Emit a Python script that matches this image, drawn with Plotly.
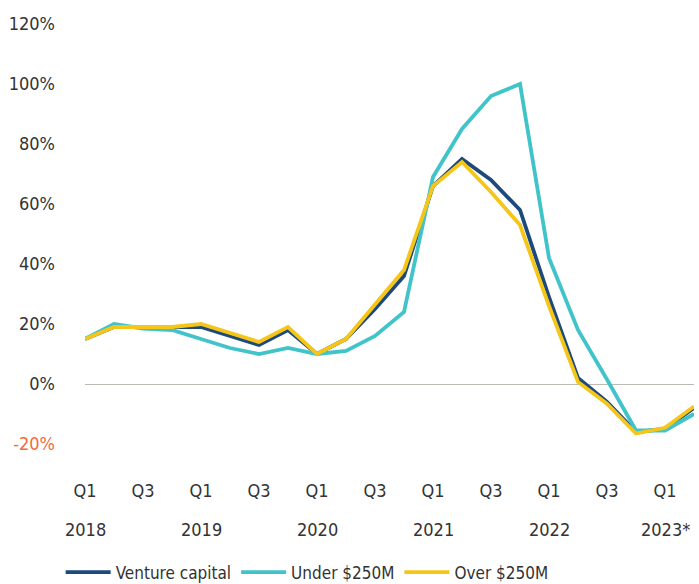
import plotly.graph_objects as go

quarters = ["2018 Q1", "2018 Q2", "2018 Q3", "2018 Q4",
            "2019 Q1", "2019 Q2", "2019 Q3", "2019 Q4",
            "2020 Q1", "2020 Q2", "2020 Q3", "2020 Q4",
            "2021 Q1", "2021 Q2", "2021 Q3", "2021 Q4",
            "2022 Q1", "2022 Q2", "2022 Q3", "2022 Q4",
            "2023 Q1", "2023 Q2"]
venture_capital = [15, 19, 19, 19, 19, 16, 13, 18, 10, 15, 25, 36,
                   66, 75, 68, 58, 29, 2, -6, -16, -15, -8]
under_250m = [15, 20, 18.5, 18, 15, 12, 10, 12, 10, 11, 16, 24,
              69, 85, 96, 100, 42, 18, 1.5, -15.5, -15.5, -10]
over_250m = [15, 19, 19, 19, 20, 17, 14, 19, 10, 15, 26.5, 38,
             66, 74, 64, 53, 26, 0.7, -6.6, -16.5, -14.6, -7.5]

quarter_tick_idx = [0, 2, 4, 6, 8, 10, 12, 14, 16, 18, 20]
quarter_tick_text = ["Q1", "Q3", "Q1", "Q3", "Q1", "Q3", "Q1", "Q3", "Q1", "Q3", "Q1"]
year_idx = [0, 4, 8, 12, 16, 20]
year_labels = ["2018", "2019", "2020", "2021", "2022", "2023*"]
y_tick_vals = [-20, 0, 20, 40, 60, 80, 100, 120]
y_tick_text = ["<span style='color:#f26a3d'>-20%</span>", "0%", "20%", "40%",
               "60%", "80%", "100%", "120%"]

FONT = "DejaVu Sans Condensed, Liberation Sans Narrow, sans-serif"
TXT = "#333333"
FS = 18

x = list(range(len(quarters)))

fig = go.Figure()
fig.add_trace(go.Scatter(x=x, y=venture_capital, mode="lines", name="Venture capital",
                         line=dict(color="#1d4a7c", width=3.8)))
fig.add_trace(go.Scatter(x=x, y=under_250m, mode="lines", name="Under $250M",
                         line=dict(color="#40c4ca", width=3.8)))
fig.add_trace(go.Scatter(x=x, y=over_250m, mode="lines", name="Over $250M",
                         line=dict(color="#f5c518", width=3.8)))

for xi, lab in zip(year_idx, year_labels):
    fig.add_annotation(x=xi, y=-0.12, xref="x", yref="paper", text=lab,
                       showarrow=False, yanchor="middle", xanchor="center",
                       font=dict(family=FONT, size=FS, color=TXT))

fig.update_layout(
    width=699, height=584,
    margin=dict(l=85, r=5, t=9, b=110, autoexpand=False),
    paper_bgcolor="white", plot_bgcolor="white",
    font=dict(family=FONT, size=FS, color=TXT),
    showlegend=True,
    legend=dict(orientation="h", x=-0.04, xanchor="left", y=-0.212, yanchor="middle",
                font=dict(family=FONT, size=17, color=TXT), itemwidth=45,
                bgcolor="rgba(0,0,0,0)"),
    xaxis=dict(range=[0, 21], tickmode="array", tickvals=quarter_tick_idx,
               ticktext=quarter_tick_text, showgrid=False, zeroline=False,
               showline=False, ticks="", ticklabelstandoff=4, automargin=False,
               tickfont=dict(family=FONT, size=FS, color=TXT)),
    yaxis=dict(range=[-30, 125], tickmode="array", tickvals=y_tick_vals,
               ticktext=y_tick_text, showgrid=False, zeroline=True,
               zerolinecolor="#bdb9b3", zerolinewidth=1.2, showline=False,
               ticks="", ticklabelstandoff=29, automargin=False,
               tickfont=dict(family=FONT, size=FS, color=TXT)),
)

fig.write_html("out.html", config={"displayModeBar": False},
               post_script="document.body.style.margin='0px';document.body.style.padding='0px';")
